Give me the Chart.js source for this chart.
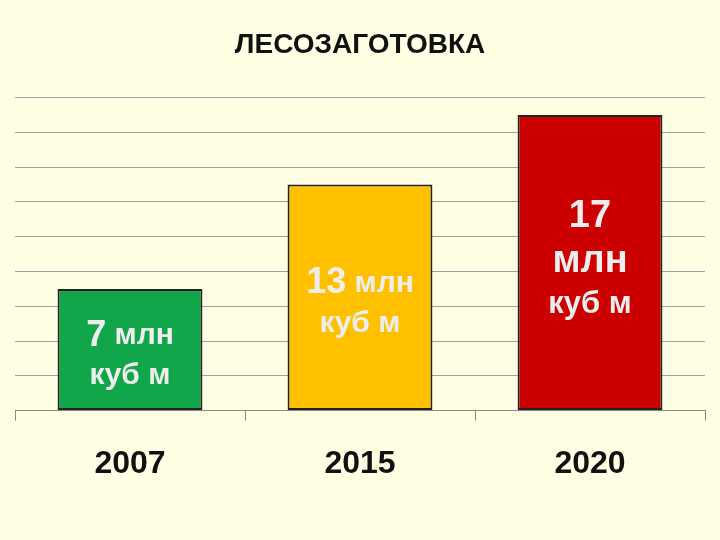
<!DOCTYPE html>
<html><head><meta charset="utf-8">
<script src="https://cdn.jsdelivr.net/npm/chart.js@4"></script>
<style>html,body{margin:0;padding:0;background:#FFFFE3;}#w{width:720px;height:540px;}</style>
</head><body><div id="w"><canvas id="c"></canvas></div>
<script>
const categories = ["2007", "2015", "2020"];
const values = [7, 13, 17];
const barColors = ["#12A64A", "#FFC000", "#CC0000"];
const barLabels = [
  [["7", " млн"], ["куб м"]],
  [["13", " млн"], ["куб м"]],
  [["17"], ["млн"], ["куб м"]]
];
const labelOffsets = [[47, 87], [99, 139], [102, 147, 189]];
const labelSizes = [[[36, 30], [30]], [[36, 30], [30]], [[38], [38], [31]]];

const labelPlugin = {
  id: 'inbar',
  afterDatasetsDraw(chart) {
    const ctx = chart.ctx;
    const meta = chart.getDatasetMeta(0);
    meta.data.forEach((bar, i) => {
      barLabels[i].forEach((line, j) => {
        const y = bar.y + labelOffsets[i][j];
        ctx.save();
        ctx.fillStyle = '#EEEEEE';
        ctx.textBaseline = 'middle';
        let widths = line.map((s, k) => { ctx.font = 'bold ' + labelSizes[i][j][k] + 'px "Liberation Sans", Arial'; return ctx.measureText(s).width; });
        let total = widths.reduce((a, b) => a + b, 0);
        let x = bar.x - total / 2;
        line.forEach((s, k) => {
          ctx.font = 'bold ' + labelSizes[i][j][k] + 'px "Liberation Sans", Arial';
          ctx.textAlign = 'left';
          ctx.fillText(s, x, y);
          x += widths[k];
        });
        ctx.restore();
      });
    });
  }
};

new Chart(document.getElementById('c'), {
  type: 'bar',
  data: { labels: categories, datasets: [{ data: values, backgroundColor: barColors, borderColor: '#222', borderWidth: 2, borderSkipped: false, categoryPercentage: 0.63, barPercentage: 1 }] },
  options: {
    responsive: true, maintainAspectRatio: false, animation: false,
    layout: { padding: { left: 15, right: 15, top: 0, bottom: 33 } },
    plugins: {
      legend: { display: false }, tooltip: { enabled: false },
      title: { display: true, text: 'ЛЕСОЗАГОТОВКА', color: '#111', font: { family: '"Liberation Sans", Arial', size: 28, weight: 'bold' }, padding: { top: 28, bottom: 36 } }
    },
    scales: {
      x: { grid: { display: true, drawOnChartArea: false, tickLength: 10, color: '#888', offset: true }, border: { color: '#888' },
           ticks: { color: '#111', font: { family: '"Liberation Sans", Arial', size: 32, weight: 'bold' }, padding: 24 } },
      y: { min: 0, max: 18, ticks: { stepSize: 2, display: false }, grid: { color: '#A0A0A0', drawTicks: false }, border: { display: false } }
    }
  },
  plugins: [labelPlugin]
});
</script></body></html>
